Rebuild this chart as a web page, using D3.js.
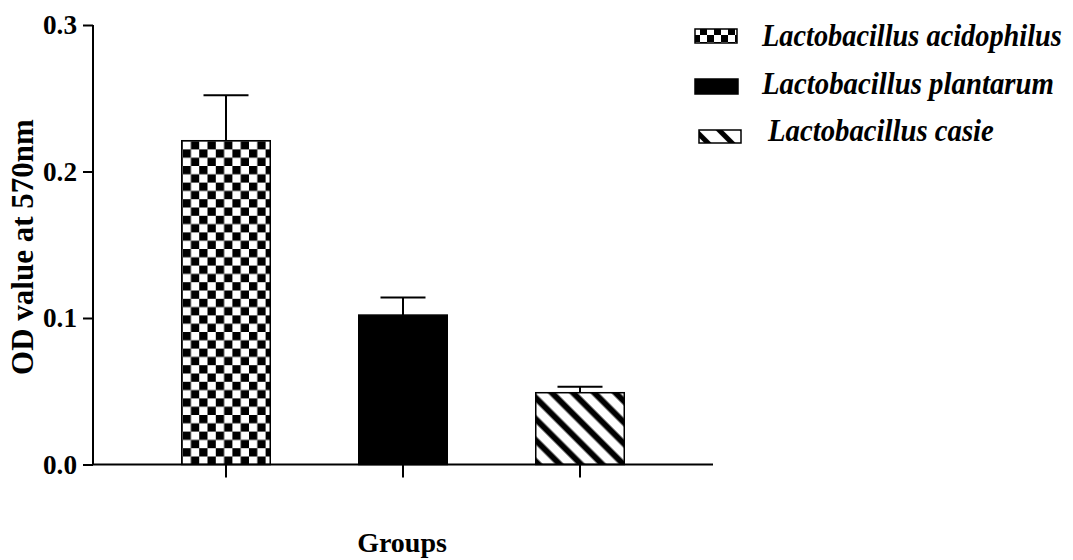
<!DOCTYPE html>
<html lang="en">
<head>
<meta charset="UTF-8">
<title>OD value at 570nm</title>
<style>
  * { margin: 0; padding: 0; }
  body { background: #fff; width: 1073px; height: 560px; overflow: hidden; }
  svg { display: block; }
  text { font-family: 'Liberation Serif', 'Times New Roman', serif; font-weight: bold; fill: #000; }
</style>
</head>
<body>
<svg width="1073" height="560"></svg>
<script src="https://d3js.org/d3.v7.min.js"></script>
<script>
// data
const groups = ['Lactobacillus acidophilus', 'Lactobacillus plantarum', 'Lactobacillus casie'];
const means = [0.221, 0.102, 0.049];
const errors = [0.031, 0.012, 0.004];
const fills = ['url(#checker)', '#000', 'url(#hatch)'];
const legendFills = ['url(#checkerSmall)', '#000', 'url(#hatchSmall)'];
const yTicks = [0.0, 0.1, 0.2, 0.3];

const svg = d3.select('svg');
const defs = svg.append('defs');

// checkerboard fill
function checker(id, size) {
  const p = defs.append('pattern')
    .attr('id', id).attr('patternUnits', 'userSpaceOnUse')
    .attr('width', size * 2).attr('height', size * 2);
  p.append('rect').attr('width', size * 2).attr('height', size * 2).attr('fill', '#fff');
  p.append('rect').attr('width', size).attr('height', size).attr('fill', '#000');
  p.append('rect').attr('x', size).attr('y', size).attr('width', size).attr('height', size).attr('fill', '#000');
}
checker('checker', 8.3);
checker('checkerSmall', 7);

// diagonal hatch "\"
function hatch(id, gap, w) {
  const p = defs.append('pattern')
    .attr('id', id).attr('patternUnits', 'userSpaceOnUse')
    .attr('width', gap).attr('height', gap)
    .attr('patternTransform', 'rotate(45)');
  p.append('rect').attr('width', gap).attr('height', gap).attr('fill', '#fff');
  p.append('rect').attr('y', (gap - w) / 2).attr('width', gap).attr('height', w).attr('fill', '#000');
}
hatch('hatch', 15, 6);
hatch('hatchSmall', 17, 5);

const x = d3.scaleBand().domain(groups).range([137.5, 668.5]).paddingInner(0.5).paddingOuter(0.25);
const y = d3.scaleLinear().domain([0, 0.3]).range([464.5, 25]);
const axisLeft = 93, axisRight = 713;

// bars
svg.append('g').selectAll('rect')
  .data(groups).join('rect')
  .attr('x', d => x(d))
  .attr('y', (d, i) => y(means[i]))
  .attr('width', x.bandwidth())
  .attr('height', (d, i) => y(0) - y(means[i]))
  .attr('fill', (d, i) => fills[i])
  .attr('stroke', '#000').attr('stroke-width', 1.5);

// error bars (upper only)
const eb = svg.append('g').attr('stroke', '#000').attr('stroke-width', 2);
groups.forEach((g, i) => {
  const cx = x(g) + x.bandwidth() / 2;
  eb.append('line').attr('x1', cx).attr('x2', cx).attr('y1', y(means[i])).attr('y2', y(means[i] + errors[i]));
  eb.append('line').attr('x1', cx - 22.5).attr('x2', cx + 22.5).attr('y1', y(means[i] + errors[i])).attr('y2', y(means[i] + errors[i]));
});

// y axis
const yAxis = svg.append('g').attr('transform', `translate(${axisLeft},0)`)
  .call(d3.axisLeft(y).tickValues(yTicks).tickFormat(d3.format('.1f')).tickSize(10).tickPadding(6));
yAxis.select('.domain').attr('d', `M0,${y(0.3)}V${y(0)}`).attr('stroke-width', 2);
yAxis.selectAll('.tick line').attr('stroke-width', 2);
yAxis.selectAll('.tick text')
  .style('font-size', '28px').style('font-family', "'Liberation Serif', serif").style('font-weight', 'bold')
  .attr('textLength', 34).attr('lengthAdjust', 'spacingAndGlyphs');

// x axis
const xAxis = svg.append('g').attr('transform', `translate(0,${y(0)})`)
  .call(d3.axisBottom(x).tickSize(13).tickFormat(''));
xAxis.select('.domain').attr('d', `M${axisLeft},0H${axisRight}`).attr('stroke-width', 2);
xAxis.selectAll('.tick line').attr('stroke-width', 2);

// axis titles
svg.append('text')
  .attr('transform', 'translate(33,247) rotate(-90)')
  .attr('text-anchor', 'middle')
  .style('font-size', '31px')
  .text('OD value at 570nm');

svg.append('text')
  .attr('x', 402).attr('y', 552)
  .attr('text-anchor', 'middle')
  .style('font-size', '28px')
  .text('Groups');

// legend (text is a bit condensed in the original, so squeeze it horizontally)
const legendRows = [
  { sx: 695, sy: 29, sw: 42, sh: 14, tx: 762, ty: 46, tl: 300 },
  { sx: 695, sy: 79, sw: 43, sh: 15, tx: 762, ty: 94, tl: 292 },
  { sx: 699, sy: 130, sw: 42, sh: 13, tx: 768, ty: 141, tl: 226 }
];
const legend = svg.append('g');
groups.forEach((g, i) => {
  const r = legendRows[i];
  legend.append('rect')
    .attr('x', r.sx).attr('y', r.sy).attr('width', r.sw).attr('height', r.sh)
    .attr('fill', legendFills[i]).attr('stroke', '#000').attr('stroke-width', 1.5);
  const t = legend.append('text')
    .style('font-size', '31px').style('font-style', 'italic')
    .text(g);
  const k = Math.min(1, r.tl / t.node().getComputedTextLength());
  t.attr('transform', `translate(${r.tx},${r.ty}) scale(${k},1)`);
});
</script>
</body>
</html>
